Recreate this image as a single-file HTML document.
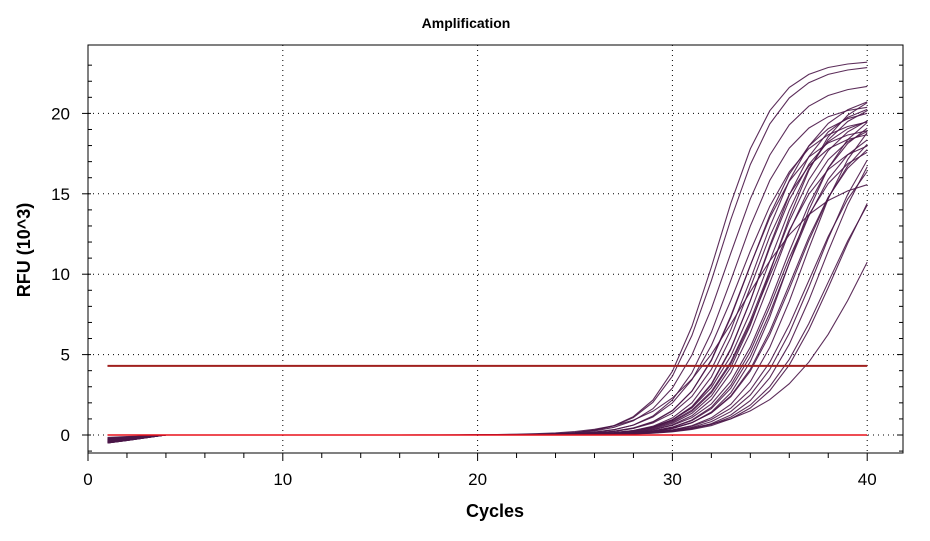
<!DOCTYPE html>
<html><head><meta charset="utf-8"><style>
body{margin:0;background:#fff;font-family:"Liberation Sans",Arial,sans-serif}
</style></head><body>
<svg id="chart" width="930" height="536" xmlns="http://www.w3.org/2000/svg">
<text x="466" y="28" text-anchor="middle" font-size="14" font-weight="bold">Amplification</text>
<text x="495" y="517" text-anchor="middle" font-size="18" font-weight="bold">Cycles</text>
<text transform="translate(30,250) rotate(-90)" text-anchor="middle" font-size="18" font-weight="bold">RFU (10^3)</text>
<g id="grid"></g><g id="axes"></g><g id="series"></g><g id="thresh"></g>
</svg>
<script>
// data
const xTicks=[0,10,20,30,40];
const yTicks=[0,5,10,15,20];
// per-well fitted curve: midpoint cycle, plateau (10^3 RFU), slope width
const mids=[32.3,32.5,32.9,33.2,33.5,33.7,33.9,34.1,34.3,34.5,34.6,34.8,34.9,35.1,35.2,35.4,35.6,35.7,35.9,36.1,36.3,36.7,37.0,37.4,37.7,38.0,38.3,40.5,33.6,35.0];
const plateaus=[23.3,23.0,21.9,20.6,19.8,19.2,20.4,19.0,21.3,20.0,20.8,18.6,21.0,19.6,21.6,18.4,20.3,19.5,20.7,19.3,20.0,21.2,19.2,20.8,21.0,19.0,20.0,24.0,16.2,20.4];
const widths=[1.45,1.5,1.55,1.5,1.6,1.5,1.55,1.45,1.6,1.5,1.5,1.55,1.6,1.5,1.55,1.5,1.6,1.55,1.5,1.6,1.65,1.6,1.7,1.7,1.7,1.8,1.8,2.4,2.0,1.6];
const startOffsets=[-0.5,-0.4,-0.3,-0.45,-0.2,-0.35,-0.5,-0.25,-0.4,-0.3,-0.15,-0.45,-0.3,-0.2,-0.35,-0.5,-0.4,-0.25,-0.3,-0.45,-0.2,-0.35,-0.4,-0.3,-0.5,-0.25,-0.4,-0.3,-0.2,-0.35];
const thresholds=[4.3];
const NS="http://www.w3.org/2000/svg";
const L=88,R=903,T=45,B=453;
const xs=c=>88+c*19.48;
const ys=v=>435-v*16.08;
function el(p,t,a){const e=document.createElementNS(NS,t);for(const k in a)e.setAttribute(k,a[k]);p.appendChild(e);return e;}
const g=document.getElementById('grid'),ax=document.getElementById('axes'),s=document.getElementById('series'),th=document.getElementById('thresh');
xTicks.forEach(c=>{
 if(c>0){const l=el(g,'line',{x1:xs(c),x2:xs(c),y1:T,y2:B,stroke:'#000','stroke-dasharray':'1,4'});
 
 }
 const t=el(ax,'text',{x:xs(c),y:485,'text-anchor':'middle','font-size':'17'});t.textContent=c;
 
 
});
for(let c=0;c<=41;c+=2){el(ax,'line',{x1:xs(c),x2:xs(c),y1:B,y2:B+(c%10==0?8:5),stroke:'#000'});}
yTicks.forEach(v=>{
 const l=el(g,'line',{x1:L,x2:R,y1:ys(v),y2:ys(v),stroke:'#000','stroke-dasharray':'1,4'});
 
 
 const t=el(ax,'text',{x:70,y:ys(v)+6,'text-anchor':'end','font-size':'17'});t.textContent=v;
 
 
});
for(let v=-1;v<=23;v++){const big=v%5==0;el(ax,'line',{x1:L-(big?6:0),x2:L+(big?3:4),y1:ys(v),y2:ys(v),stroke:'#000'});el(ax,'line',{x1:R-(big?6:4),x2:R,y1:ys(v),y2:ys(v),stroke:'#000'});}
const frame=el(ax,'rect',{x:L,y:T,width:R-L,height:B-T,fill:'none',stroke:'#000'});


mids.forEach((m,i)=>{
 const P=plateaus[i],w=widths[i];let d='';
 for(let c=1;c<=40;c++){
  let v=P/(1+Math.exp(-(c-m)/w))-P/(1+Math.exp(-(1-m)/w));
  if(c<4)v+=startOffsets[i]*(4-c)/3;
  d+=(c==1?'M':'L')+xs(c).toFixed(1)+','+ys(v).toFixed(1);
 }
 const p=el(s,'path',{d:d,fill:'none',stroke:'#4a1648','stroke-width':'1.1','stroke-opacity':'0.9'});
 
 
});
const z=el(th,'line',{x1:xs(1),x2:xs(40),y1:ys(0),y2:ys(0),stroke:'#e8101a','stroke-width':'1.5'});


thresholds.forEach(v=>{
 const l=el(th,'line',{x1:xs(1),x2:xs(40),y1:ys(v),y2:ys(v),stroke:'#a0201e','stroke-width':'2'});
 
 
});
</script>
</body></html>
